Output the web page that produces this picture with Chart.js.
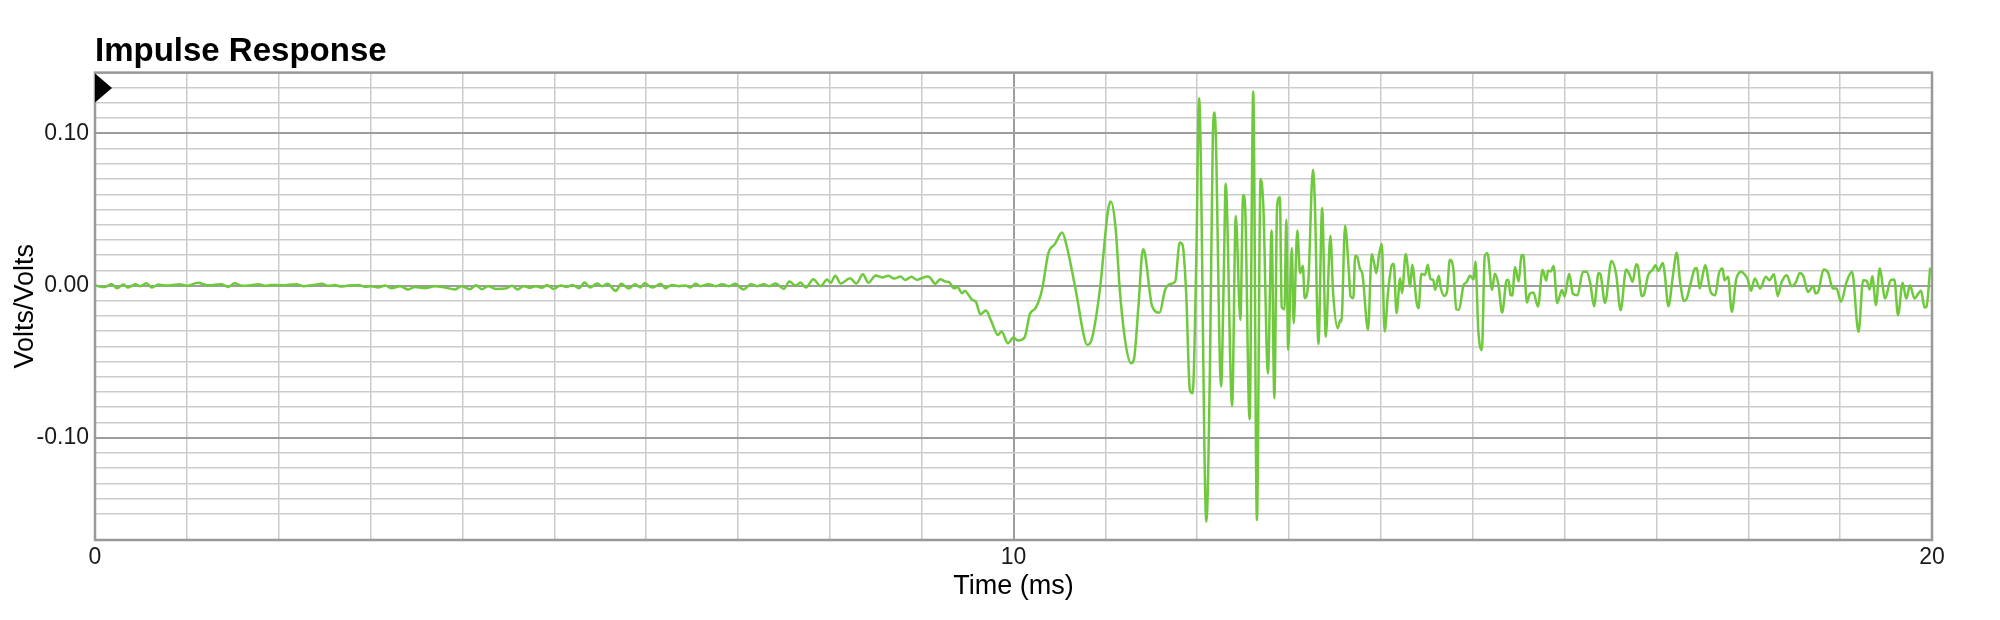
<!DOCTYPE html>
<html>
<head>
<meta charset="utf-8">
<title>Impulse Response</title>
<script src="https://cdn.jsdelivr.net/npm/chart.js@4.4.1/dist/chart.umd.min.js"></script>
<style>
  html, body { margin: 0; padding: 0; background: #fff; }
  #wrap { width: 2000px; height: 620px; }
</style>
</head>
<body>
<div id="wrap"><canvas id="ir" width="2000" height="620"></canvas></div>
<script>
"use strict";

// ---- Data: [time in ms, volts/volts] -------------------------------------

const quietSegment = [
  [0.00, 0.0000], [0.11, -0.0010], [0.18, 0.0010], [0.24, -0.0018], [0.31, 0.0007],
  [0.36, -0.0013], [0.44, 0.0009], [0.49, -0.0004], [0.56, 0.0015], [0.62, -0.0013],
  [0.69, 0.0007], [0.76, 0.0000], [0.83, 0.0002], [0.92, 0.0009], [1.00, -0.0002],
  [1.12, 0.0018], [1.22, 0.0002], [1.29, 0.0004], [1.38, 0.0009], [1.45, -0.0009],
  [1.52, 0.0015], [1.60, -0.0002], [1.70, 0.0002], [1.78, 0.0009], [1.85, -0.0002],
  [1.92, 0.0004], [2.03, 0.0002], [2.19, 0.0009], [2.27, -0.0004], [2.36, 0.0002],
  [2.47, 0.0011], [2.54, -0.0002], [2.61, 0.0004], [2.68, -0.0007], [2.76, 0.0000],
  [2.87, 0.0004], [2.94, -0.0009], [3.01, -0.0004], [3.08, -0.0013], [3.16, 0.0000],
  [3.23, -0.0018], [3.32, -0.0004], [3.41, -0.0026], [3.48, -0.0009], [3.59, -0.0018],
  [3.70, -0.0004], [3.81, -0.0013], [3.92, -0.0026], [3.99, -0.0004], [4.08, -0.0024],
  [4.15, 0.0002], [4.21, -0.0024], [4.28, -0.0004], [4.37, -0.0022],
  [4.47, -0.0020], [4.54, -0.0002], [4.60, -0.0026], [4.67, -0.0004], [4.74, -0.0015],
  [4.80, -0.0004], [4.87, -0.0015], [4.92, 0.0004], [4.99, -0.0022], [5.07, 0.0000],
  [5.14, -0.0009], [5.20, 0.0004], [5.27, -0.0018], [5.33, 0.0020], [5.39, -0.0013],
  [5.47, 0.0013], [5.52, -0.0004], [5.58, 0.0011], [5.67, -0.0035], [5.73, 0.0011],
  [5.81, -0.0020], [5.88, 0.0009], [5.94, -0.0013], [5.98, 0.0015], [6.07, -0.0013],
  [6.16, 0.0011], [6.21, -0.0018], [6.28, 0.0004], [6.36, -0.0004], [6.43, 0.0000],
  [6.48, -0.0013], [6.54, 0.0011], [6.59, -0.0004], [6.68, 0.0009], [6.76, -0.0004],
  [6.83, 0.0009], [6.90, -0.0004], [6.97, 0.0011], [7.06, -0.0026], [7.14, 0.0009],
  [7.21, -0.0004], [7.28, 0.0009], [7.34, -0.0004], [7.41, 0.0013], [7.50, -0.0022],
  [7.56, 0.0026], [7.63, 0.0000], [7.68, 0.0020], [7.74, -0.0013], [7.82, 0.0042],
  [7.90, -0.0004], [7.97, 0.0039], [8.01, 0.0018], [8.06, 0.0064], [8.12, 0.0013],
  [8.22, 0.0048], [8.29, 0.0013], [8.36, 0.0075], [8.42, 0.0018], [8.50, 0.0066],
  [8.57, 0.0053], [8.64, 0.0064], [8.70, 0.0046],
];

const onsetSegment = [
  [8.77, 0.0059], [8.82, 0.0037], [8.89, 0.0057], [8.95, 0.0037], [9.00, 0.0048],
  [9.06, 0.0059], [9.09, 0.0053], [9.15, 0.0011], [9.20, 0.0042], [9.26, 0.0026],
  [9.30, 0.0022], [9.35, -0.0018], [9.39, -0.0011], [9.44, -0.0050], [9.47, -0.0035],
  [9.51, -0.0061], [9.55, -0.0094], [9.59, -0.0107], [9.64, -0.0189], [9.70, -0.0164],
  [9.76, -0.0237], [9.83, -0.0325], [9.87, -0.0303], [9.94, -0.0380], [10.00, -0.0342],
  [10.05, -0.0362], [10.12, -0.0342], [10.18, -0.0186], [10.24, -0.0149], [10.31, -0.0029],
  [10.38, 0.0213], [10.45, 0.0272], [10.53, 0.0349], [10.58, 0.0257], [10.69, -0.0072],
  [10.76, -0.0314], [10.80, -0.0390], [10.85, -0.0357], [10.94, -0.0029], [11.03, 0.0498],
];

const burstSegment = [
  [11.06, 0.0553], [11.11, 0.0388], [11.16, -0.0050], [11.22, -0.0380], [11.28, -0.0511],
  [11.31, -0.0489], [11.36, -0.0138], [11.41, 0.0239], [11.43, 0.0213], [11.51, -0.0138],
  [11.59, -0.0178], [11.65, -0.0029], [11.71, 0.0011], [11.76, 0.0026], [11.81, 0.0283],
  [11.84, 0.0268], [11.88, -0.0050], [11.92, -0.0686], [11.95, -0.0708], [11.99, 0.0169],
  [12.02, 0.1232], [12.10, -0.1553], [12.14, -0.0489], [12.17, 0.0980], [12.19, 0.1138],
  [12.26, -0.0664], [12.29, 0.0081], [12.31, 0.0669], [12.38, -0.0792], [12.42, 0.0458],
  [12.47, -0.0226], [12.50, 0.0596], [12.52, 0.0542], [12.57, -0.0879], [12.61, 0.1276],
  [12.65, -0.1542], [12.69, 0.0700], [12.72, 0.0520], [12.77, -0.0577], [12.81, 0.0362],
  [12.84, -0.0741], [12.87, 0.0520], [12.90, 0.0581], [12.92, -0.0143], [12.95, -0.0156],
  [12.97, 0.0432], [12.99, -0.0423], [13.03, 0.0246], [13.05, -0.0248], [13.09, 0.0362],
  [13.12, 0.0081], [13.15, 0.0129], [13.17, -0.0083],
];

const decaySegment = [
  [13.21, 0.0026], [13.26, 0.0761], [13.28, 0.0564], [13.32, -0.0384], [13.36, 0.0509],
  [13.40, -0.0336], [13.45, 0.0327], [13.48, -0.0050], [13.53, -0.0281], [13.56, -0.0226],
  [13.57, -0.0237], [13.61, 0.0393], [13.65, 0.0103], [13.67, -0.0072], [13.70, -0.0083],
  [13.72, 0.0195], [13.74, 0.0191], [13.77, 0.0114], [13.80, 0.0070], [13.86, -0.0292],
  [13.90, 0.0208], [13.93, 0.0136], [13.95, 0.0081], [13.98, 0.0202], [14.01, 0.0274],
  [14.04, -0.0303], [14.08, -0.0029], [14.12, 0.0136], [14.14, 0.0143], [14.17, -0.0182],
  [14.21, 0.0048], [14.23, -0.0050], [14.27, 0.0208], [14.32, -0.0007], [14.34, 0.0136],
  [14.39, -0.0116], [14.41, -0.0149], [14.44, 0.0077], [14.48, 0.0070], [14.51, 0.0136],
  [14.54, 0.0042], [14.57, 0.0037], [14.59, -0.0029], [14.63, 0.0064], [14.65, -0.0011],
  [14.69, -0.0068], [14.72, -0.0039], [14.75, 0.0169], [14.79, 0.0103], [14.82, -0.0156],
  [14.85, -0.0160], [14.90, 0.0004], [14.93, 0.0020], [14.97, 0.0064], [15.01, 0.0042],
  [15.03, 0.0158], [15.06, -0.0292], [15.10, -0.0423], [15.13, 0.0191], [15.16, 0.0213],
  [15.21, -0.0029], [15.24, 0.0077], [15.28, 0.0004], [15.32, -0.0178], [15.37, 0.0037],
  [15.39, 0.0037], [15.41, -0.0061], [15.43, -0.0066], [15.46, 0.0121], [15.50, 0.0026],
  [15.53, 0.0195], [15.55, 0.0202], [15.59, -0.0112], [15.62, -0.0055], [15.66, -0.0046],
  [15.71, -0.0138], [15.76, 0.0103], [15.80, 0.0033], [15.82, 0.0099], [15.85, 0.0092],
  [15.88, 0.0129], [15.92, -0.0116], [15.97, -0.0029], [16.00, -0.0072], [16.05, 0.0077],
];

const tailSegment = [
  [16.09, -0.0053], [16.14, -0.0064], [16.20, 0.0090], [16.24, 0.0090], [16.28, 0.0013],
  [16.32, -0.0136], [16.37, 0.0083], [16.39, 0.0075], [16.44, -0.0114], [16.51, 0.0162],
  [16.56, 0.0079], [16.61, -0.0162], [16.67, 0.0105], [16.71, 0.0068], [16.74, 0.0024],
  [16.78, 0.0140], [16.80, 0.0123], [16.84, -0.0070], [16.86, -0.0064], [16.91, 0.0068],
  [16.96, 0.0105], [16.99, 0.0134], [17.02, 0.0096], [17.07, 0.0149], [17.09, 0.0079],
  [17.13, -0.0136], [17.18, 0.0068], [17.22, 0.0215], [17.26, 0.0013], [17.30, -0.0101],
  [17.33, -0.0086], [17.37, 0.0009], [17.42, 0.0112], [17.44, 0.0116], [17.47, -0.0020],
  [17.50, 0.0057], [17.53, 0.0134], [17.59, -0.0042], [17.64, -0.0064], [17.68, 0.0079],
  [17.72, 0.0112], [17.74, 0.0035], [17.78, 0.0057], [17.82, -0.0173], [17.87, 0.0046],
  [17.93, 0.0090], [17.95, 0.0079], [17.99, 0.0046], [18.03, -0.0035], [18.07, 0.0046],
  [18.13, -0.0020], [18.19, 0.0057], [18.23, 0.0035], [18.28, 0.0075], [18.32, -0.0070],
  [18.36, 0.0018], [18.42, 0.0068], [18.47, -0.0004], [18.52, 0.0024], [18.56, 0.0083],
  [18.60, 0.0061], [18.65, -0.0042], [18.71, -0.0004], [18.73, -0.0053], [18.76, -0.0042],
  [18.82, 0.0105], [18.87, 0.0083], [18.92, -0.0020], [18.96, -0.0020], [19.01, -0.0107],
  [19.07, 0.0024], [19.13, 0.0090], [19.20, -0.0305], [19.25, 0.0035], [19.29, 0.0031],
  [19.32, -0.0026], [19.35, 0.0061], [19.39, -0.0129], [19.43, 0.0112], [19.49, -0.0086],
  [19.55, 0.0035], [19.59, 0.0039], [19.63, -0.0195], [19.68, 0.0018], [19.72, -0.0086],
  [19.76, 0.0002], [19.81, -0.0086], [19.85, -0.0053], [19.88, -0.0035], [19.92, -0.0145],
  [19.94, -0.0140], [19.98, 0.0118],
];

// Axis ranges and the only labelled ticks
const X_RANGE = [0, 20];
const Y_RANGE = [-0.1673, 0.14];
const xTickValues = [0, 10, 20];
const xTickLabels = ["0", "10", "20"];
const yTickValues = [-0.1, 0, 0.1];
const yTickLabels = ["-0.10", "0.00", "0.10"];

// ---- Styling -----------------------------------------------------------------

const FONT = '"Helvetica Neue", Helvetica, "Liberation Sans", Arial, sans-serif';
const LINE_GREEN = "#6fc93d";
const GRID_MINOR = "#cbcbcb";
const GRID_MAJOR = "#9d9d9d";

const points = [quietSegment, onsetSegment, burstSegment, decaySegment, tailSegment]
  .flat()
  .map(([t, v]) => ({ x: t, y: v }));

// Empty string (not null) so that unlabelled ticks still get their grid line
function labelAt(value, values, labels) {
  const idx = values.findIndex((v) => Math.abs(v - value) < 1e-6);
  return idx === -1 ? "" : labels[idx];
}

const isMajorX = (v) => Math.abs(v % 10) < 1e-6;
const isMajorY = (v) => {
  const hundredths = Math.round(v * 100);
  return Math.abs(v * 100 - hundredths) < 1e-6 && hundredths % 10 === 0;
};

// Plot frame plus the little start marker in the top-left corner
const framePlugin = {
  id: "frame",
  afterDatasetsDraw(chart) {
    const { ctx, chartArea: a } = chart;
    ctx.save();
    ctx.strokeStyle = "#999999";
    ctx.lineWidth = 2.5;
    ctx.strokeRect(a.left, a.top, a.right - a.left, a.bottom - a.top);
    ctx.fillStyle = "#000";
    ctx.beginPath();
    ctx.moveTo(a.left, a.top + 1);
    ctx.lineTo(a.left + 17, a.top + 15.5);
    ctx.lineTo(a.left, a.top + 30);
    ctx.closePath();
    ctx.fill();
    ctx.restore();
  },
};

new Chart(document.getElementById("ir"), {
  type: "line",
  data: {
    datasets: [{
      label: "Impulse Response",
      data: points,
      borderColor: LINE_GREEN,
      borderWidth: 2.5,
      pointRadius: 0,
      cubicInterpolationMode: "monotone",
      fill: false,
    }],
  },
  options: {
    responsive: false,
    animation: false,
    layout: { padding: { left: 0, right: 68, top: 0, bottom: 0 } },
    plugins: {
      legend: { display: false },
      tooltip: { enabled: false },
      title: {
        display: true,
        text: "Impulse Response",
        align: "start",
        fullSize: false,
        color: "#000",
        font: { family: FONT, size: 33, weight: "bold" },
        padding: { top: 32, bottom: 1 },
      },
    },
    scales: {
      x: {
        type: "linear",
        min: X_RANGE[0],
        max: X_RANGE[1],
        afterFit: (s) => { s.height = 80; },
        border: { display: false },
        grid: {
          drawTicks: false,
          color: (c) => (isMajorX(c.tick.value) ? GRID_MAJOR : GRID_MINOR),
          lineWidth: (c) => (isMajorX(c.tick.value) ? 2 : 1.5),
        },
        ticks: {
          stepSize: 1,
          autoSkip: false,
          maxRotation: 0,
          padding: 4,
          color: "#1a1a1a",
          font: { family: FONT, size: 23 },
          callback: (v) => labelAt(v, xTickValues, xTickLabels),
        },
        title: {
          display: true,
          text: "Time (ms)",
          color: "#000",
          font: { family: FONT, size: 27 },
          padding: { top: 17, bottom: 17 },
        },
      },
      y: {
        min: Y_RANGE[0],
        max: Y_RANGE[1],
        afterFit: (s) => { s.width = 95; },
        border: { display: false },
        grid: {
          drawTicks: false,
          color: (c) => (isMajorY(c.tick.value) ? GRID_MAJOR : GRID_MINOR),
          lineWidth: (c) => (isMajorY(c.tick.value) ? 2 : 1.5),
        },
        ticks: {
          stepSize: 0.01,
          autoSkip: false,
          padding: 6,
          color: "#1a1a1a",
          font: { family: FONT, size: 23 },
          callback: (v) => labelAt(v, yTickValues, yTickLabels),
        },
        title: {
          display: true,
          text: "Volts/Volts",
          color: "#000",
          font: { family: FONT, size: 27 },
          padding: { top: 9, bottom: 9 },
        },
      },
    },
  },
  plugins: [framePlugin],
});
</script>
</body>
</html>
